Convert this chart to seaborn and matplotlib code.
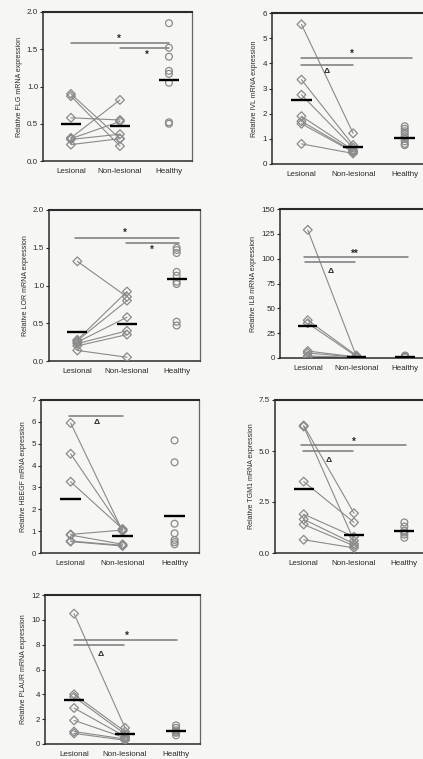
import pandas as pd
import matplotlib.pyplot as plt
import numpy as np
import seaborn as sns

groups = ['Lesional', 'Non-lesional', 'Healthy']

# FLG
flg_les = [0.90, 0.87, 0.58, 0.31, 0.30, 0.29, 0.22]
flg_non = [0.30, 0.20, 0.55, 0.82, 0.53, 0.36, 0.30]
flg_hea = [1.85, 1.52, 1.40, 1.21, 1.17, 1.05, 0.52, 0.50]
flg_bar = [0.50, 0.475, 1.09]

# IVL
ivl_les = [5.55, 3.35, 2.75, 1.90, 1.70, 1.60, 0.80]
ivl_non = [1.22, 0.75, 0.65, 0.55, 0.50, 0.48, 0.42]
ivl_hea = [1.50, 1.40, 1.30, 1.20, 1.10, 1.00, 0.90, 0.80, 0.75]
ivl_bar = [2.55, 0.69, 1.02]

# LOR
lor_les = [1.32, 0.28, 0.27, 0.25, 0.23, 0.20, 0.14]
lor_non = [0.85, 0.92, 0.80, 0.58, 0.40, 0.35, 0.05]
lor_hea = [1.50, 1.47, 1.43, 1.18, 1.13, 1.05, 1.02, 0.52, 0.47]
lor_bar = [0.38, 0.49, 1.09]

# IL8
il8_les = [129, 38, 35, 7, 5, 2, 1]
il8_non = [1.5, 2.5, 1.5, 1.0, 0.8, 0.5, 0.3]
il8_hea = [2.5, 2.0, 1.5, 1.2, 1.0, 0.8]
il8_bar = [32, 1, 1]

# HBEGF
hbegf_les = [5.95, 4.54, 3.26, 0.85, 0.82, 0.55, 0.52]
hbegf_non = [1.00, 1.05, 1.10, 1.05, 0.40, 0.35, 0.32]
hbegf_hea = [5.15, 4.15, 1.34, 0.90, 0.60, 0.50, 0.40]
hbegf_bar = [2.45, 0.77, 1.68]

# TGM1
tgm1_les = [6.25, 6.20, 3.50, 1.90, 1.65, 1.40, 0.65]
tgm1_non = [1.95, 0.60, 1.50, 0.80, 0.45, 0.35, 0.25]
tgm1_hea = [1.50, 1.30, 1.10, 1.00, 0.90, 0.75]
tgm1_bar = [3.13, 0.87, 1.07]

# PLAUR
plaur_les = [10.5, 4.0, 3.8, 2.9, 1.9, 1.0, 0.85]
plaur_non = [1.3, 1.0, 0.8, 0.6, 0.5, 0.4, 0.3]
plaur_hea = [1.5, 1.3, 1.1, 1.0, 0.9, 0.7]
plaur_bar = [3.58, 0.78, 1.02]

# significance bars: (y, from, to, label, label x, label y)
flg_sig = [(1.59, 0, 2, '*', 0.97, 1.64), (1.52, 1, 2, '*', 1.54, 1.42)]
ivl_sig = [(4.2, 0, 2.14, '*', 0.98, 4.38), (3.95, 0, 1, 'Δ', 0.49, 3.68)]
lor_sig = [(1.63, -0.05, 2.05, '*', 0.95, 1.70), (1.56, 0.98, 2.05, '*', 1.5, 1.47)]
il8_sig = [(101.5, -0.08, 2.05, '**', 0.97, 105), (96.5, -0.05, 0.97, 'Δ', 0.48, 87)]
hbegf_sig = [(6.28, -0.03, 1.0, 'Δ', 0.5, 5.95)]
tgm1_sig = [(5.3, -0.05, 2.03, '*', 0.99, 5.45), (5.0, -0.02, 0.98, 'Δ', 0.5, 4.55)]
plaur_sig = [(8.4, 0, 2.02, '*', 1.03, 8.7), (7.95, 0, 0.98, 'Δ', 0.53, 7.2)]

panels = [
    ('FLG', flg_les, flg_non, flg_hea, flg_bar, flg_sig, [0, 0.5, 1.0, 1.5, 2.0], '%.1f', (43, 12, 192, 161)),
    ('IVL', ivl_les, ivl_non, ivl_hea, ivl_bar, ivl_sig, [0, 1, 2, 3, 4, 5, 6], '%d', (272, 13, 429, 164)),
    ('LOR', lor_les, lor_non, lor_hea, lor_bar, lor_sig, [0, 0.5, 1.0, 1.5, 2.0], '%.1f', (49, 210, 200, 361)),
    ('IL8', il8_les, il8_non, il8_hea, il8_bar, il8_sig, [0, 25, 50, 75, 100, 125, 150], '%d', (280, 209, 428, 358)),
    ('HBEGF', hbegf_les, hbegf_non, hbegf_hea, hbegf_bar, hbegf_sig, [0, 1, 2, 3, 4, 5, 6, 7], '%d', (41, 400, 199, 553)),
    ('TGM1', tgm1_les, tgm1_non, tgm1_hea, tgm1_bar, tgm1_sig, [0, 2.5, 5.0, 7.5], '%.1f', (275, 400, 428, 553)),
    ('PLAUR', plaur_les, plaur_non, plaur_hea, plaur_bar, plaur_sig, [0, 2, 4, 6, 8, 10, 12], '%d', (45, 595, 200, 744)),
]

sns.set_style('ticks')
plt.rcParams['font.family'] = ['Liberation Sans', 'DejaVu Sans']

W, H = 423, 759
fig = plt.figure(figsize=(W / 100, H / 100), dpi=100, facecolor='#f6f6f4')

grey = '#8a8a8a'
dark = '#2a2a2a'

for gene, les, non, hea, bar, sig, yt, fmt, box in panels:
    l, t, r, b = box
    ax = fig.add_axes([l / W, 1 - b / H, (r - l) / W, (b - t) / H])
    ax.set_facecolor('#f6f6f4')

    # paired samples, long form
    n = len(les)
    pairs = pd.DataFrame({
        'pid': list(range(n)) * 2,
        'pos': [0] * n + [1] * n,
        'value': les + non,
    })
    healthy = pd.DataFrame({'pos': [2] * len(hea), 'value': hea})

    sns.lineplot(data=pairs, x='pos', y='value', units='pid', estimator=None,
                 color=grey, lw=0.8, ax=ax, legend=False)
    sns.scatterplot(data=pairs, x='pos', y='value', marker='D', s=20,
                    facecolors='none', edgecolors=grey, linewidth=0.9, ax=ax, legend=False, zorder=3)
    sns.scatterplot(data=healthy, x='pos', y='value', marker='o', s=24,
                    facecolors='none', edgecolors=grey, linewidth=0.9, ax=ax, legend=False, zorder=3)

    # group means
    ax.hlines(bar, [-0.2, 0.8, 1.8], [0.2, 1.2, 2.2], color='black', lw=1.7, zorder=4)

    for y, x0, x1, lab, lx, ly in sig:
        ax.plot([x0, x1], [y, y], color='#7a7a7a', lw=1.1, zorder=2)
        ax.text(lx, ly, lab, ha='center', va='center',
                fontsize=7 if '*' in lab else 6, fontweight='bold', color=dark)

    ax.set_xlim(-0.57, 2.47)
    ax.set_ylim(yt[0], yt[-1])
    ax.set_yticks(yt)
    ax.set_yticklabels([fmt % v for v in yt])
    ax.set_xticks([0, 1, 2])
    ax.set_xticklabels(groups)
    ax.tick_params(axis='x', length=0, pad=5, labelsize=5.8, colors=dark)
    ax.tick_params(axis='y', length=2, width=0.8, pad=1.5, labelsize=5.8, colors=dark)
    ax.set_xlabel('')
    ax.set_ylabel('Relative %s mRNA expression' % gene, fontsize=5, color=dark, labelpad=3)
    for side in ['top', 'bottom', 'left', 'right']:
        ax.spines[side].set_visible(True)
        ax.spines[side].set_color(dark)
        ax.spines[side].set_linewidth(1.1)
    ax.spines['top'].set_linewidth(1.5)
    ax.spines['right'].set_color('#666666')
    ax.spines['right'].set_linewidth(0.9)

fig.savefig('out.png', dpi=100, facecolor=fig.get_facecolor())
